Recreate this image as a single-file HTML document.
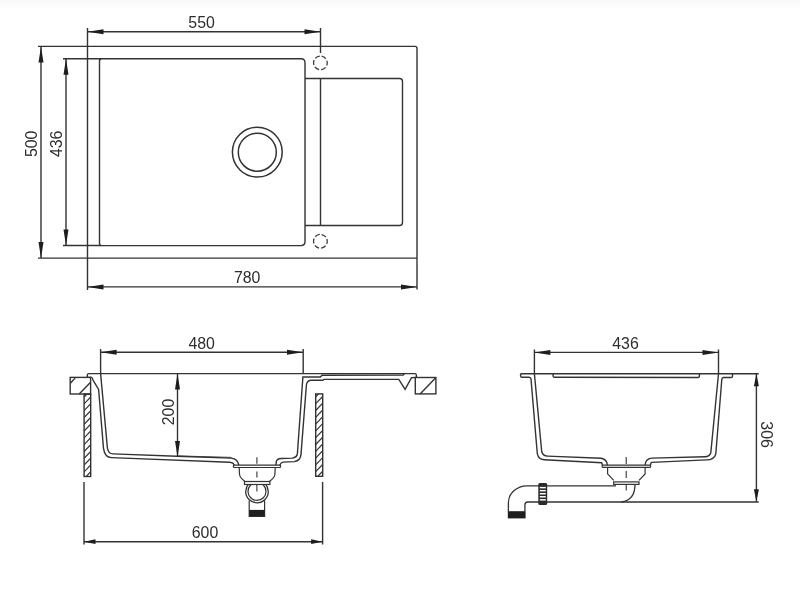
<!DOCTYPE html>
<html><head><meta charset="utf-8"><style>
html,body{margin:0;padding:0;background:#fff;}
body{width:800px;height:593px;overflow:hidden;}
svg{display:block;}
text{font-family:"Liberation Sans",sans-serif;fill:#2e2e2e;}
svg{will-change:transform;}
</style></head><body>
<svg width="800" height="593" viewBox="0 0 800 593">
<defs><linearGradient id="topg" x1="0" y1="0" x2="0" y2="1"><stop offset="0" stop-color="#f8f8f8"/><stop offset="1" stop-color="#fdfdfd"/></linearGradient></defs>
<rect x="0" y="0" width="800" height="593" fill="#fff"/>
<rect x="0" y="0" width="800" height="8" fill="url(#topg)"/>
<line x1="87.5" y1="31.7" x2="320.5" y2="31.7" stroke="#333333" stroke-width="1.4"/>
<polygon points="87.5,31.7 103.50,29.20 103.50,34.20" fill="#1e1e1e"/>
<polygon points="320.5,31.7 304.50,34.20 304.50,29.20" fill="#1e1e1e"/>
<text x="201.6" y="22.5" text-anchor="middle" dominant-baseline="central" font-size="16.6" textLength="26.5" lengthAdjust="spacingAndGlyphs">550</text>
<line x1="87.5" y1="28" x2="87.5" y2="290" stroke="#333333" stroke-width="1.4"/>
<line x1="320.5" y1="28" x2="320.5" y2="53" stroke="#333333" stroke-width="1.4"/>
<line x1="320.5" y1="78.5" x2="320.5" y2="225.5" stroke="#333333" stroke-width="1.4"/>
<path d="M38 46.4 L415 46.4 Q417 46.4 417 48.4 L417 289.5" fill="none" stroke="#333333" stroke-width="1.4" />
<line x1="38" y1="258.1" x2="417" y2="258.1" stroke="#333333" stroke-width="1.4"/>
<line x1="41" y1="46.4" x2="41" y2="258.1" stroke="#333333" stroke-width="1.4"/>
<polygon points="41,46.4 43.50,62.40 38.50,62.40" fill="#1e1e1e"/>
<polygon points="41,258.1 38.50,242.10 43.50,242.10" fill="#1e1e1e"/>
<text x="31.7" y="143.8" text-anchor="middle" dominant-baseline="central" transform="rotate(-90 31.7 143.8)" font-size="16.6" textLength="26.5" lengthAdjust="spacingAndGlyphs">500</text>
<line x1="63" y1="58.7" x2="99.5" y2="58.7" stroke="#333333" stroke-width="1.4"/>
<line x1="63" y1="245.5" x2="99.5" y2="245.5" stroke="#333333" stroke-width="1.4"/>
<line x1="66" y1="58.7" x2="66" y2="245.6" stroke="#333333" stroke-width="1.4"/>
<polygon points="66,58.7 68.50,74.70 63.50,74.70" fill="#1e1e1e"/>
<polygon points="66,245.6 63.50,229.60 68.50,229.60" fill="#1e1e1e"/>
<text x="56.7" y="143.8" text-anchor="middle" dominant-baseline="central" transform="rotate(-90 56.7 143.8)" font-size="16.6" textLength="26.5" lengthAdjust="spacingAndGlyphs">436</text>
<path d="M99 58.7 L301 58.7 Q305 58.7 305 62.7 L305 241.6 Q305 245.6 301 245.6 L99 245.6 M101.8 245.6 Q99.5 245.6 99.5 243.3 L99.5 61 Q99.5 58.7 101.8 58.7" fill="none" stroke="#333333" stroke-width="1.4" />
<path d="M305 78.5 L399.5 78.5 Q402.5 78.5 402.5 81.5 L402.5 222.5 Q402.5 225.5 399.5 225.5 L305 225.5" fill="none" stroke="#333333" stroke-width="1.4" />
<circle cx="320.4" cy="62.9" r="6.85" fill="none" stroke="#3c3c3c" stroke-width="1.3" stroke-dasharray="5.1 2.07" transform="rotate(-80 320.4 62.9)"/>
<circle cx="320.4" cy="241.3" r="6.85" fill="none" stroke="#3c3c3c" stroke-width="1.3" stroke-dasharray="5.1 2.07" transform="rotate(-80 320.4 241.3)"/>
<circle cx="257.3" cy="152.1" r="24.9" fill="none" stroke="#333333" stroke-width="1.5"/>
<circle cx="257.3" cy="152.2" r="19" fill="none" stroke="#333333" stroke-width="1.5"/>
<line x1="87.5" y1="286.9" x2="417" y2="286.9" stroke="#333333" stroke-width="1.4"/>
<polygon points="87.5,286.9 103.50,284.40 103.50,289.40" fill="#1e1e1e"/>
<polygon points="417,286.9 401.00,289.40 401.00,284.40" fill="#1e1e1e"/>
<text x="247.2" y="277.5" text-anchor="middle" dominant-baseline="central" font-size="16.6" textLength="26.5" lengthAdjust="spacingAndGlyphs">780</text>
<line x1="100.6" y1="352.3" x2="303" y2="352.3" stroke="#333333" stroke-width="1.4"/>
<polygon points="100.6,352.3 116.60,349.80 116.60,354.80" fill="#1e1e1e"/>
<polygon points="303,352.3 287.00,354.80 287.00,349.80" fill="#1e1e1e"/>
<text x="201.7" y="343.1" text-anchor="middle" dominant-baseline="central" font-size="16.6" textLength="26.5" lengthAdjust="spacingAndGlyphs">480</text>
<line x1="100.6" y1="349" x2="100.6" y2="373.6" stroke="#333333" stroke-width="1.4"/>
<line x1="303.2" y1="349" x2="303.2" y2="373.6" stroke="#333333" stroke-width="1.4"/>
<path d="M87.3 377.4 L87.3 375.2 Q87.3 373.6 89 373.6 L414.8 373.6 Q416.4 373.6 416.4 375.2 L416.4 377.4" fill="none" stroke="#333333" stroke-width="1.4" />
<rect x="70.2" y="377.4" width="20.4" height="16.6" fill="none" stroke="#333333" stroke-width="1.4"/>
<line x1="70.4" y1="383.2" x2="75.1" y2="378.1" stroke="#333333" stroke-width="1.4"/>
<line x1="79.2" y1="394" x2="90.6" y2="382.2" stroke="#333333" stroke-width="1.4"/>
<rect x="415.3" y="377.5" width="20.6" height="16.4" fill="none" stroke="#333333" stroke-width="1.4"/>
<line x1="420.1" y1="393.9" x2="435.5" y2="378.1" stroke="#333333" stroke-width="1.4"/>
<rect x="84.1" y="394.1" width="6.6" height="82.4" fill="none" stroke="#333333" stroke-width="1.4"/>
<clipPath id="c84394"><rect x="84.1" y="394.1" width="6.6" height="82.4"/></clipPath>
<path d="M84.1 397.10 L90.69999999999999 390.17 M84.1 403.90 L90.69999999999999 396.97 M84.1 410.70 L90.69999999999999 403.77 M84.1 417.50 L90.69999999999999 410.57 M84.1 424.30 L90.69999999999999 417.37 M84.1 431.10 L90.69999999999999 424.17 M84.1 437.90 L90.69999999999999 430.97 M84.1 444.70 L90.69999999999999 437.77 M84.1 451.50 L90.69999999999999 444.57 M84.1 458.30 L90.69999999999999 451.37 M84.1 465.10 L90.69999999999999 458.17 M84.1 471.90 L90.69999999999999 464.97 M84.1 478.70 L90.69999999999999 471.77 M84.1 485.50 L90.69999999999999 478.57 " stroke="#333333" stroke-width="1.2" clip-path="url(#c84394)"/>
<rect x="315.7" y="393.9" width="7.0" height="82.4" fill="none" stroke="#333333" stroke-width="1.4"/>
<clipPath id="c315393"><rect x="315.7" y="393.9" width="7.0" height="82.4"/></clipPath>
<path d="M315.7 396.90 L322.7 389.55 M315.7 403.70 L322.7 396.35 M315.7 410.50 L322.7 403.15 M315.7 417.30 L322.7 409.95 M315.7 424.10 L322.7 416.75 M315.7 430.90 L322.7 423.55 M315.7 437.70 L322.7 430.35 M315.7 444.50 L322.7 437.15 M315.7 451.30 L322.7 443.95 M315.7 458.10 L322.7 450.75 M315.7 464.90 L322.7 457.55 M315.7 471.70 L322.7 464.35 M315.7 478.50 L322.7 471.15 M315.7 485.30 L322.7 477.95 " stroke="#333333" stroke-width="1.2" clip-path="url(#c315393)"/>
<path d="M87.3 377.4 L91.5 377.4 Q92.6 377.6 93 380 L98.6 389.5 L103.5 448.3 Q104.8 457.4 111.5 457.6 L229.5 462.2 Q233.5 462.6 234.3 465.2" fill="none" stroke="#333333" stroke-width="1.4" />
<path d="M100.6 373.6 L107.4 448 Q108.4 453.9 113 453.9 L177 456.3 L231.3 458.1 Q237.8 458.8 238.8 465.2" fill="none" stroke="#333333" stroke-width="1.4" />
<path d="M177 455.9 L231.3 457.4" fill="none" stroke="#333333" stroke-width="0.9" />
<path d="M276 465.2 L276.2 461.8 Q277 458.6 281 458.5 L292.4 458.1 Q297 457.5 297.4 453.4 L302.9 377 L320.5 377 L322 375.2 L403.2 375.1 L404.5 373.6" fill="none" stroke="#333333" stroke-width="1.4" />
<path d="M279.8 465.2 Q281 462.3 283 462.1 L294.4 461.6 Q300.6 460.5 301 454.4 L306.4 385 Q307 380.3 311.5 380.3 L322.7 380.3 L324 379.4 L398.8 379.4 L405.1 389.4 L411.5 377.7 L416.4 377.4" fill="none" stroke="#333333" stroke-width="1.4" />
<line x1="177.5" y1="373.6" x2="177.5" y2="457" stroke="#333333" stroke-width="1.4"/>
<polygon points="177.5,373.6 180.00,389.60 175.00,389.60" fill="#1e1e1e"/>
<polygon points="177.5,457 175.00,441.00 180.00,441.00" fill="#1e1e1e"/>
<text x="168.2" y="412" text-anchor="middle" dominant-baseline="central" transform="rotate(-90 168.2 412)" font-size="16.6" textLength="26.5" lengthAdjust="spacingAndGlyphs">200</text>
<rect x="233.3" y="465.2" width="47.3" height="2.3" rx="1" fill="none" stroke="#333333" stroke-width="1.2"/>
<path d="M239.2 467.5 L239.5 474.5 Q240.2 478.3 244.8 481.2 M275.2 467.5 L274.9 474.5 Q274.2 478.3 269.6 481.2" fill="none" stroke="#333333" stroke-width="1.2" />
<rect x="244.5" y="481.5" width="25.4" height="3" fill="none" stroke="#333333" stroke-width="1.2"/>
<clipPath id="uclip"><rect x="230" y="484.6" width="60" height="30"/></clipPath>
<g clip-path="url(#uclip)"><circle cx="257" cy="491.5" r="11.3" fill="none" stroke="#333333" stroke-width="1.3"/><circle cx="257" cy="491.4" r="9" fill="none" stroke="#333333" stroke-width="1.2"/></g>
<path d="M249.2 500.5 L249.2 516.3 L264.6 516.3 L264.6 500.5" fill="none" stroke="#333333" stroke-width="1.2" />
<rect x="249.2" y="509.9" width="15.4" height="6.4" fill="#1e1e1e"/>
<path d="M256.9 457.3 L256.9 463.8 M256.9 471.5 L256.9 477.4 M256.9 485 L256.9 491.6" fill="none" stroke="#333333" stroke-width="1.1" />
<line x1="84" y1="482" x2="84" y2="544.5" stroke="#333333" stroke-width="1.4"/>
<line x1="322.6" y1="482" x2="322.6" y2="544.5" stroke="#333333" stroke-width="1.4"/>
<line x1="84" y1="541.7" x2="322.6" y2="541.7" stroke="#333333" stroke-width="1.4"/>
<polygon points="84,541.7 95.50,539.30 95.50,544.10" fill="#1e1e1e"/>
<polygon points="322.6,541.7 311.10,544.10 311.10,539.30" fill="#1e1e1e"/>
<text x="205" y="532.8" text-anchor="middle" dominant-baseline="central" font-size="16.6" textLength="26.5" lengthAdjust="spacingAndGlyphs">600</text>
<line x1="534.4" y1="352.4" x2="718.5" y2="352.4" stroke="#333333" stroke-width="1.4"/>
<polygon points="534.4,352.4 550.40,349.90 550.40,354.90" fill="#1e1e1e"/>
<polygon points="718.5,352.4 702.50,354.90 702.50,349.90" fill="#1e1e1e"/>
<text x="625.5" y="343.1" text-anchor="middle" dominant-baseline="central" font-size="16.6" textLength="26.5" lengthAdjust="spacingAndGlyphs">436</text>
<line x1="534.4" y1="349.5" x2="534.4" y2="373.8" stroke="#333333" stroke-width="1.4"/>
<line x1="718.5" y1="349.5" x2="718.5" y2="373.8" stroke="#333333" stroke-width="1.4"/>
<line x1="520.6" y1="373.8" x2="758.7" y2="373.8" stroke="#333333" stroke-width="1.4"/>
<path d="M520.6 373.8 L520.6 376 Q520.6 377.2 522 377.2 L529 377.2 Q530.8 377.4 531 379 L537.3 453.7 Q538.5 459.5 544 459.8 L601.7 462.7 Q602.3 463.3 602.3 465.2" fill="none" stroke="#333333" stroke-width="1.4" />
<path d="M534.4 373.8 L541.7 451.5 Q542.8 456 547.5 456.1 L601 458.3 Q606.8 459 607.4 465.2" fill="none" stroke="#333333" stroke-width="1.4" />
<path d="M553.1 373.8 L553.1 376 Q553.1 377.3 554.5 377.3 L698 377.5 Q699.4 377.5 699.4 376 L699.4 373.8" fill="none" stroke="#333333" stroke-width="1.4" />
<path d="M732.5 373.8 L732.5 376.2 Q732.5 377.5 731 377.5 L723.5 377.5 Q721.9 377.6 721.8 379.5 L715.8 453.8 Q714.3 459.7 706.7 459.9 L651.5 462.4 Q650.6 463 650.6 465.2" fill="none" stroke="#333333" stroke-width="1.4" />
<path d="M718.5 373.8 L710.8 452.8 Q709.6 456.6 705 456.8 L651.6 458.1 Q645.4 458.8 645.1 465.2" fill="none" stroke="#333333" stroke-width="1.4" />
<rect x="602.1" y="465.2" width="48.5" height="2.2" rx="1" fill="none" stroke="#333333" stroke-width="1.2"/>
<path d="M607.6 467.4 L607.6 473.8 L613.7 480.3 M645.1 467.4 L645.1 474 L639 480.3" fill="none" stroke="#333333" stroke-width="1.2" />
<rect x="613.7" y="481.9" width="25.3" height="2.5" fill="none" stroke="#333333" stroke-width="1.2"/>
<path d="M626.2 457 L626.2 490.5" fill="none" stroke="#333333" stroke-width="1.1" stroke-dasharray="7 7"/>
<path d="M616 485.8 L527 485.8 A18.6 17 0 0 0 508.4 502.8 L508.4 511.5" fill="none" stroke="#333333" stroke-width="1.3" />
<path d="M758.7 502 L527.8 502 Q524.9 502 524.9 504.9 L524.9 511.5" fill="none" stroke="#333333" stroke-width="1.3" />
<rect x="507.8" y="511.2" width="17.8" height="7.2" fill="#1e1e1e"/>
<path d="M635 484.4 Q635 500 621.3 502" fill="none" stroke="#333333" stroke-width="1.3" />
<rect x="538.3" y="483" width="8.9" height="21.9" rx="1.5" fill="#2a2a2a"/>
<rect x="539.8" y="486.90" width="6.0" height="1.45" fill="#fff"/>
<rect x="539.8" y="489.95" width="6.0" height="1.45" fill="#fff"/>
<rect x="539.8" y="493.00" width="6.0" height="1.45" fill="#fff"/>
<rect x="539.8" y="496.05" width="6.0" height="1.45" fill="#fff"/>
<rect x="539.8" y="499.10" width="6.0" height="1.45" fill="#fff"/>
<line x1="756.4" y1="373.8" x2="756.4" y2="501.7" stroke="#333333" stroke-width="1.4"/>
<polygon points="756.4,373.8 758.90,386.30 753.90,386.30" fill="#1e1e1e"/>
<polygon points="756.4,501.7 753.90,489.20 758.90,489.20" fill="#1e1e1e"/>
<text x="766.9" y="434.6" text-anchor="middle" dominant-baseline="central" transform="rotate(90 766.9 434.6)" font-size="16.6" textLength="26.5" lengthAdjust="spacingAndGlyphs">306</text>
</svg>
</body></html>
